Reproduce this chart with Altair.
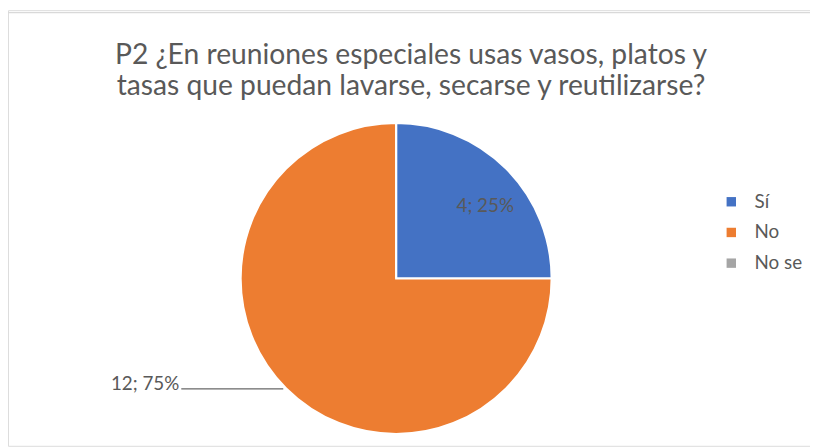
import altair as alt
import pandas as pd

categories = ["Sí", "No", "No se"]
counts = [4, 12, 0]
percents = ["25%", "75%", "0%"]
colors = ["#4472C4", "#ED7D31", "#A5A5A5"]
title_lines = ["P2 ¿En reuniones especiales usas vasos, platos y",
               "tasas que puedan lavarse, secarse y reutilizarse?"]

df = pd.DataFrame({"cat": categories, "val": counts, "idx": [0, 1, 2]})

FONT = "Lato"
TXT = "#595959"

border = alt.Chart(pd.DataFrame({"a": [0]})).mark_rect(
    fill=None, stroke="#D9D9D9", strokeWidth=1.2
).encode(x=alt.value(-2), x2=alt.value(830), y=alt.value(2.5), y2=alt.value(460))

pie = alt.Chart(df).mark_arc(outerRadius=157, stroke="white", strokeWidth=2).encode(
    theta=alt.Theta("val:Q", stack=True),
    order=alt.Order("idx:Q"),
    color=alt.Color(
        "cat:N",
        scale=alt.Scale(domain=categories, range=colors),
        sort=categories,
        legend=alt.Legend(
            title=None, orient="none", legendX=721, legendY=184,
            symbolType="square", symbolSize=90, symbolStrokeWidth=0,
            labelFontSize=19, labelFont=FONT, labelColor=TXT,
            labelOffset=14, rowPadding=11,
        ),
    ),
    x=alt.value(392), y=alt.value(271),
)

lab1 = alt.Chart(pd.DataFrame({"t": [f"{counts[0]}; {percents[0]}"]})).mark_text(
    fontSize=19, font=FONT, color=TXT, align="center", baseline="alphabetic"
).encode(text="t:N", x=alt.value(482), y=alt.value(204))

lab2 = alt.Chart(pd.DataFrame({"t": [f"{counts[1]}; {percents[1]}"]})).mark_text(
    fontSize=19, font=FONT, color=TXT, align="right", baseline="alphabetic"
).encode(text="t:N", x=alt.value(173), y=alt.value(384))

leader = alt.Chart(pd.DataFrame({"a": [0]})).mark_rule(color="#404040", strokeWidth=1).encode(
    x=alt.value(175), x2=alt.value(278), y=alt.value(382.5)
)

t1 = alt.Chart(pd.DataFrame({"t": [title_lines[0]]})).mark_text(
    fontSize=28.5, font=FONT, color=TXT, align="center", baseline="alphabetic"
).encode(text="t:N", x=alt.value(407), y=alt.value(54))
t2 = alt.Chart(pd.DataFrame({"t": [title_lines[1]]})).mark_text(
    fontSize=28.5, font=FONT, color=TXT, align="center", baseline="alphabetic"
).encode(text="t:N", x=alt.value(407), y=alt.value(86))

chart = alt.layer(border, pie, lab1, lab2, leader, t1, t2).properties(
    width=810, height=440, padding=0,
    autosize=alt.AutoSizeParams(type="none"),
).configure_view(stroke=None).configure(background="white")

chart.save("out.html", embed_options={"renderer": "svg", "actions": False})
